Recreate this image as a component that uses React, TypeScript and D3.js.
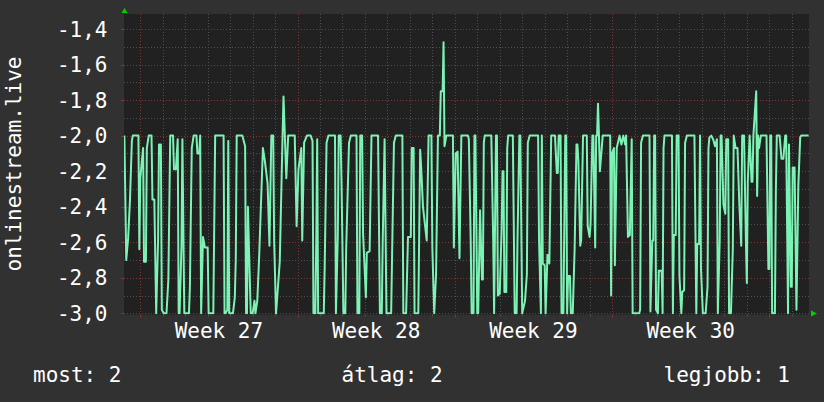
import React from "react";
import * as d3 from "d3";

// hours since the start of week 27, value of onlinestream.live
const week27: [number, number][] = [
  [-17, -2.0], [-15, -2.7], [-13, -2.58], [-11, -2.36], [-9, -2.03], [-8, -2.0], [-2, -2.0], [-1, -2.64],
  [0, -2.24], [3, -2.07], [4, -2.71], [6, -2.71], [7, -2.07], [9, -2.0], [12, -2.0], [13, -2.36],
  [15, -2.36], [17, -3.0], [19, -2.59], [20, -2.05], [22, -2.05], [23, -2.98], [25, -3.0], [28, -3.0],
  [30, -2.81], [32, -2.0], [35, -2.0], [36, -2.19], [38, -2.19], [40, -2.02], [41, -3.0], [42, -3.0],
  [44, -2.62], [45, -2.02], [47, -3.0], [52, -3.0], [53, -2.85], [55, -2.07], [57, -2.0], [60, -2.0],
  [61, -2.1], [63, -2.1], [64, -2.0], [65, -3.0], [67, -2.57], [69, -2.63], [72, -2.63], [73, -3.0],
  [78, -3.0], [80, -2.0], [89, -2.0], [90, -3.0], [91, -3.0], [93, -2.98], [94, -2.03], [95, -3.0],
  [99, -3.0], [101, -2.91], [102, -2.7], [103, -2.0], [109, -2.0], [112, -2.06], [113, -3.0], [114, -3.0],
  [115, -2.4], [116, -2.61], [118, -3.0], [120, -3.0], [122, -2.93], [123, -3.0], [125, -2.93], [127, -2.68],
  [131, -2.07], [133, -2.14], [136, -2.27], [138, -2.62], [140, -2.0], [142, -2.0], [143, -2.59], [145, -3.0],
  [146, -2.93], [149, -2.71], [152, -2.0], [153, -1.78], [156, -2.24], [158, -2.0],
];

const week28: [number, number][] = [
  [165, -2.0], [167, -2.51], [169, -2.19], [172, -2.07], [173, -2.59], [175, -2.04], [178, -2.0], [182, -2.0],
  [184, -2.03], [185, -3.0], [187, -3.0], [188, -2.58], [189, -2.02], [190, -3.0], [196, -3.0], [197, -2.74],
  [199, -2.04], [201, -2.0], [208, -2.0], [209, -3.0], [211, -2.57], [212, -2.0], [214, -2.0], [215, -2.27],
  [217, -3.0], [219, -3.0], [220, -2.63], [223, -2.04], [225, -2.0], [231, -2.0], [232, -3.0], [234, -3.0],
  [235, -2.0], [237, -2.0], [238, -2.55], [241, -2.91], [242, -2.66], [245, -2.65], [247, -2.0], [254, -2.0],
  [256, -3.0], [258, -3.0], [259, -2.59], [261, -2.02], [263, -3.0], [268, -3.0], [269, -2.68], [271, -2.04],
  [273, -2.0], [280, -2.0], [281, -3.0], [284, -3.0], [286, -2.57], [289, -2.57], [290, -2.07], [292, -2.07],
  [293, -3.0], [297, -3.0], [299, -2.08], [300, -2.17], [302, -2.4], [306, -2.59], [308, -2.0], [311, -2.0],
  [312, -2.63], [314, -3.0], [316, -2.78], [318, -2.0], [320, -2.0], [321, -1.75], [323, -1.75], [324, -1.475],
  [325, -2.06], [327, -2.0], [334, -2.0], [335, -2.63], [337, -2.1], [339, -2.09], [341, -2.69], [343, -2.0],
];

const week29: [number, number][] = [
  [350, -2.0], [351, -2.02], [353, -2.59], [354, -3.0], [356, -3.0], [357, -2.0], [358, -2.0], [360, -3.0],
  [361, -3.0], [363, -2.42], [365, -2.81], [366, -2.81], [367, -2.04], [368, -2.0], [375, -2.0], [377, -2.58],
  [378, -3.0], [380, -2.0], [381, -2.0], [382, -2.9], [384, -2.89], [386, -2.53], [387, -2.2], [388, -2.2],
  [389, -2.88], [391, -2.88], [392, -2.07], [393, -2.0], [398, -2.0], [400, -3.0], [402, -3.0], [403, -2.58],
  [405, -2.0], [406, -2.0], [408, -3.0], [411, -2.93], [413, -2.78], [414, -2.04], [416, -2.0], [425, -2.0],
  [426, -2.59], [428, -3.0], [429, -2.0], [430, -2.72], [432, -2.73], [433, -3.0], [435, -2.67], [437, -2.72],
  [439, -2.0], [443, -2.0], [445, -2.21], [446, -2.21], [447, -2.0], [449, -2.0], [450, -3.0], [452, -3.0],
  [454, -2.0], [455, -2.0], [456, -3.0], [457, -2.79], [459, -2.79], [460, -3.0], [462, -3.0], [464, -2.64],
  [466, -2.05], [467, -2.05], [468, -2.14], [470, -2.62], [471, -2.59], [473, -2.0], [477, -2.0], [478, -2.51],
  [480, -2.57], [481, -2.5], [483, -2.0], [484, -2.0], [486, -2.63], [487, -2.0], [488, -2.0], [489, -1.82],
  [490, -2.0], [491, -2.2], [493, -2.07], [494, -2.0], [502, -2.0], [503, -2.9], [504, -2.1], [506, -2.07],
  [507, -2.73], [509, -2.07], [512, -2.0], [514, -2.05], [516, -2.0], [518, -2.05], [519, -2.0], [521, -2.57],
];

const week30: [number, number][] = [
  [523, -2.56], [525, -2.02], [526, -3.0], [533, -3.0], [534, -2.98], [535, -2.04], [537, -2.0], [544, -2.0],
  [545, -2.99], [547, -2.59], [548, -2.59], [549, -2.0], [550, -2.0], [551, -2.98], [553, -3.0], [554, -2.76],
  [557, -2.76], [558, -3.0], [559, -2.07], [560, -2.0], [568, -2.0], [569, -3.0], [570, -2.56], [572, -2.56],
  [573, -2.0], [575, -2.0], [576, -2.79], [578, -3.0], [579, -2.88], [581, -2.87], [582, -2.04], [584, -2.0],
  [592, -2.0], [594, -3.0], [595, -2.61], [597, -2.61], [598, -2.0], [599, -2.75], [601, -3.0], [604, -3.0],
  [606, -2.85], [607, -2.07], [608, -2.01], [610, -2.0], [612, -2.02], [614, -2.06], [616, -2.02], [617, -3.0],
  [619, -2.59], [620, -2.0], [621, -2.0], [623, -2.39], [625, -2.44], [626, -2.02], [628, -2.02], [629, -3.0],
  [631, -3.0], [633, -2.64], [634, -2.0], [636, -2.07], [638, -2.07], [640, -2.39], [642, -2.62], [643, -2.0],
  [645, -2.0], [647, -2.59], [648, -2.83], [649, -2.26], [651, -2.0], [653, -2.26], [654, -2.26], [655, -2.0],
  [658, -1.75], [659, -2.34], [660, -2.0], [661, -2.07], [663, -2.0], [669, -2.0], [671, -2.75], [672, -2.75],
  [673, -2.0], [674, -2.0], [675, -3.0], [678, -3.0], [679, -2.31], [680, -2.0], [683, -2.0], [685, -2.13],
  [687, -2.13], [689, -2.0], [690, -2.0], [692, -3.0], [693, -2.05], [695, -2.85], [696, -2.85], [697, -2.18],
  [699, -2.18], [701, -2.98], [703, -2.28], [705, -2.01], [706, -2.0], [714, -2.0],
];

const weekLabels = ["Week 27", "Week 28", "Week 29", "Week 30"];
const legendItems = ["most: 2", "átlag: 2", "legjobb: 1"];
const title = "onlinestream.live";

const W = 824;
const H = 402;
const plot = { left: 124, right: 809, top: 14, bottom: 314.5 };
const FONT = "'DejaVu Sans Mono', monospace";

const BG = "#313131";
const PLOT_BG = "#212121";
const LINE = "#7cf2b5";
const MAJOR = "#833535";
const MINOR = "#4f4f4f";
const ARROW = "#00d000";

const fmt = d3
  .formatLocale({ decimal: ",", thousands: " ", grouping: [3], currency: ["", ""], minus: "-" })
  .format(".1f");

export default function App() {
  const data = [...week27, ...week28, ...week29, ...week30];

  const x = d3.scaleLinear().domain([-17.4, 714.4]).range([plot.left, plot.right]);
  const y = d3.scaleLinear().domain([-3.0, -1.4]).range([313.3, 29]);

  const majorY = y.ticks(8);
  const minorY = y.ticks(16).filter((v) => !majorY.some((m) => Math.abs(m - v) < 1e-6));
  const weekStarts = d3.range(0, 700, 168);
  const days = d3.range(0, 715, 24).filter((h) => h % 168 !== 0);

  const line = d3
    .line<[number, number]>()
    .x((d) => x(d[0]))
    .y((d) => y(d[1]));

  return (
    <svg width={W} height={H} style={{ position: "absolute", left: 0, top: 0, display: "block" }}>
      <defs>
        <clipPath id="plotclip">
          <rect x={plot.left} y={plot.top} width={plot.right - plot.left} height={plot.bottom - plot.top} />
        </clipPath>
      </defs>
      <rect width={W} height={H} fill={BG} />
      <rect
        x={plot.left}
        y={plot.top}
        width={plot.right - plot.left}
        height={plot.bottom - plot.top}
        fill={PLOT_BG}
      />

      {/* minor grid */}
      {minorY.map((v) => (
        <line key={"my" + v} x1={plot.left} x2={plot.right} y1={Math.round(y(v)) + 0.5} y2={Math.round(y(v)) + 0.5}
          stroke={MINOR} strokeDasharray="1,2" />
      ))}
      {days.map((h) => (
        <line key={"mx" + h} x1={Math.round(x(h)) + 0.5} x2={Math.round(x(h)) + 0.5} y1={plot.top} y2={plot.bottom}
          stroke={MINOR} strokeDasharray="1,2" />
      ))}
      {/* major grid */}
      {majorY.map((v) => (
        <line key={"My" + v} x1={plot.left} x2={plot.right} y1={Math.round(y(v)) + 0.5} y2={Math.round(y(v)) + 0.5}
          stroke={MAJOR} strokeDasharray="1,2" />
      ))}
      {weekStarts.map((h) => (
        <line key={"Mx" + h} x1={Math.round(x(h)) + 0.5} x2={Math.round(x(h)) + 0.5} y1={plot.top} y2={plot.bottom}
          stroke={MAJOR} strokeDasharray="1,2" />
      ))}

      {/* ticks */}
      {majorY.map((v) => (
        <line key={"ty" + v} x1={plot.left - 3} x2={plot.left} y1={Math.round(y(v)) + 0.5} y2={Math.round(y(v)) + 0.5}
          stroke={MAJOR} />
      ))}
      {weekStarts.map((h) => (
        <line key={"tx" + h} x1={Math.round(x(h)) + 0.5} x2={Math.round(x(h)) + 0.5} y1={plot.bottom} y2={plot.bottom + 3}
          stroke={MAJOR} />
      ))}
      {days.map((h) => (
        <line key={"tdx" + h} x1={Math.round(x(h)) + 0.5} x2={Math.round(x(h)) + 0.5} y1={plot.bottom} y2={plot.bottom + 2}
          stroke={MINOR} />
      ))}

      {/* series */}
      <path d={line(data) || ""} fill="none" stroke={LINE} strokeWidth={2} strokeLinejoin="round"
        clipPath="url(#plotclip)" />

      {/* arrows */}
      <path d={`M${plot.left - 2.5},13 L${plot.left + 3.5},13 L${plot.left + 0.5},8 Z`} fill={ARROW} />
      <path d={`M${plot.right + 2},${plot.bottom - 4} L${plot.right + 2},${plot.bottom + 2} L${plot.right + 8},${plot.bottom - 1} Z`} fill={ARROW} />

      {/* y labels */}
      {majorY.map((v) => (
        <text key={"ly" + v} x={107.5} y={y(v)} dy="0.36em" textAnchor="end" fill="#fff"
          fontFamily={FONT} fontSize={21}>
          {fmt(v)}
        </text>
      ))}

      {/* week labels */}
      {weekStarts.map((h, i) =>
        i < weekLabels.length ? (
          <text key={"lx" + h} x={x(h + 84)} y={338} textAnchor="middle" fill="#fff" fontFamily={FONT} fontSize={21}>
            {weekLabels[i]}
          </text>
        ) : null
      )}

      {/* title */}
      <text transform="translate(20.5,164) rotate(-90)" textAnchor="middle" fill="#fff" fontFamily={FONT} fontSize={21}>
        {title}
      </text>

      {/* legend */}
      <text x={33} y={382} fill="#fff" fontFamily={FONT} fontSize={21}>{legendItems[0]}</text>
      <text x={341.5} y={382} fill="#fff" fontFamily={FONT} fontSize={21}>{legendItems[1]}</text>
      <text x={790} y={382} textAnchor="end" fill="#fff" fontFamily={FONT} fontSize={21}>{legendItems[2]}</text>
    </svg>
  );
}
